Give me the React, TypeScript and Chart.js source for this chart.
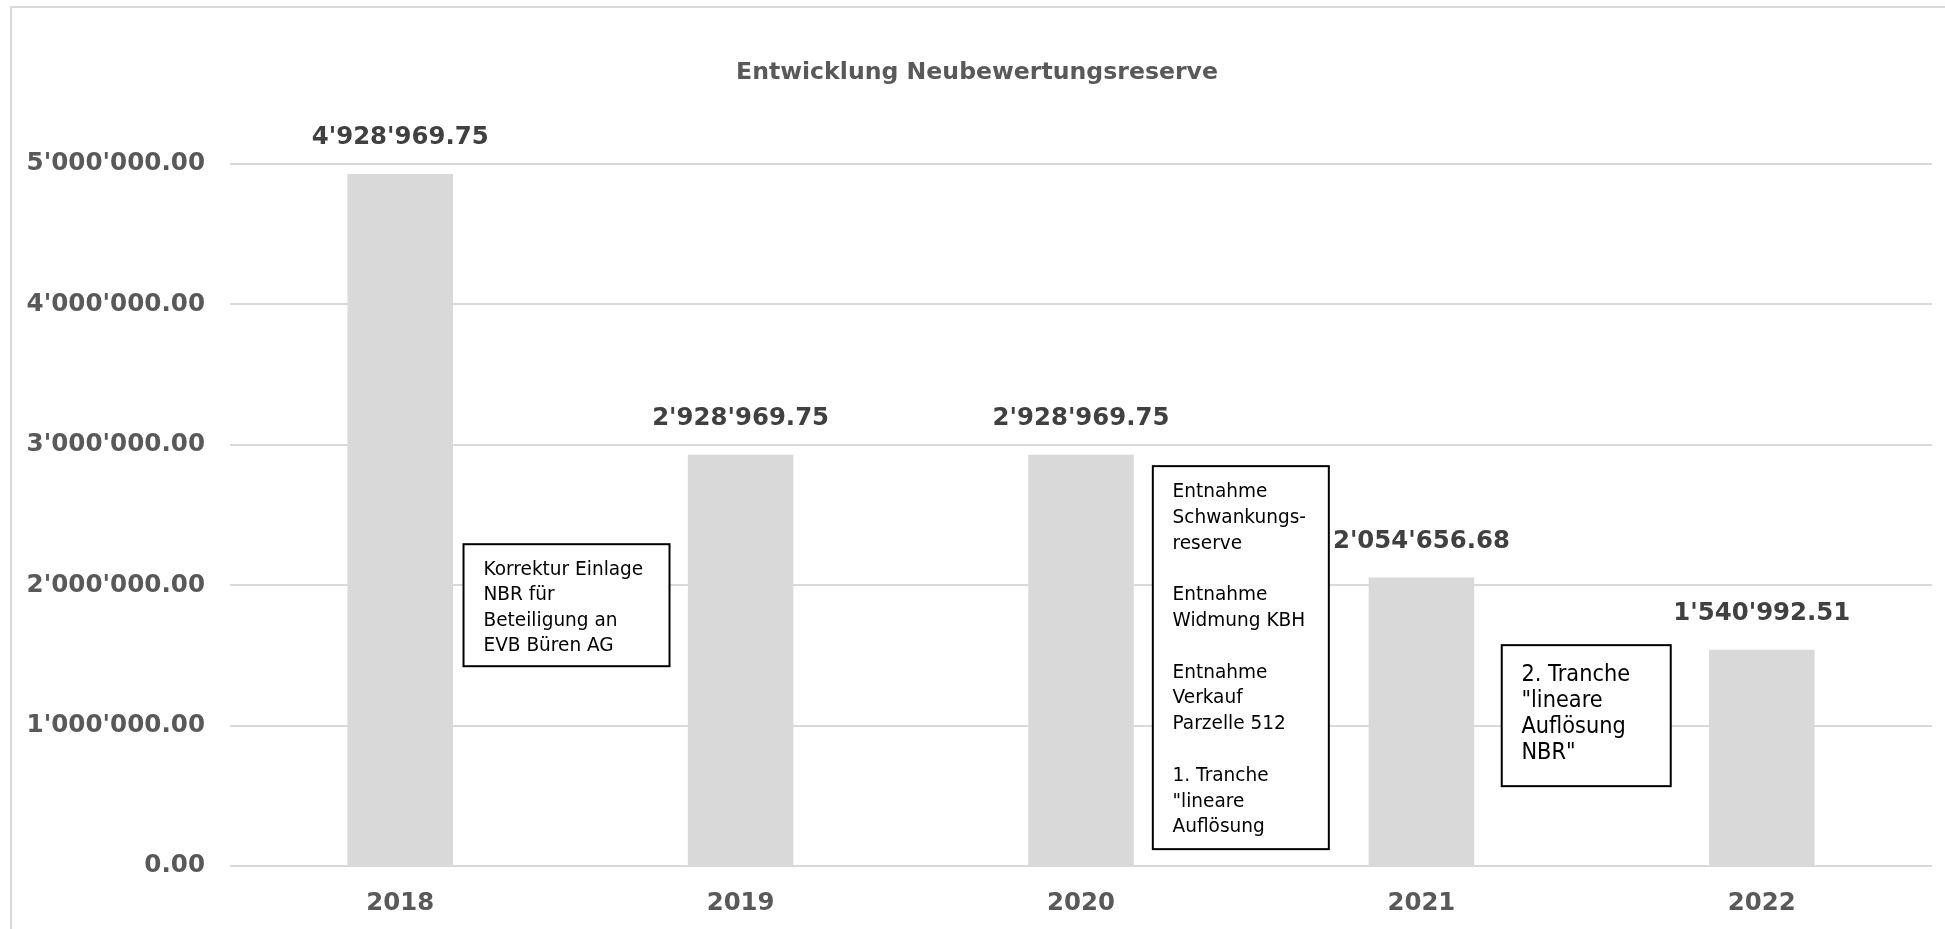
import React, { useEffect, useRef } from "react";
import { Chart, registerables } from "chart.js";

Chart.register(...registerables);

const categories = ["2018", "2019", "2020", "2021", "2022"];
const values = [4928969.75, 2928969.75, 2928969.75, 2054656.68, 1540992.51];
const yTicks = [0, 1000000, 2000000, 3000000, 4000000, 5000000];
const chartTitle = "Entwicklung Neubewertungsreserve";

const note1Lines = ["Korrektur Einlage", "NBR für", "Beteiligung an", "EVB Büren AG"];
const note2Lines = [
  "Entnahme",
  "Schwankungs-",
  "reserve",
  "",
  "Entnahme",
  "Widmung KBH",
  "",
  "Entnahme",
  "Verkauf",
  "Parzelle 512",
  "",
  "1. Tranche",
  "\"lineare",
  "Auflösung",
];
const note3Lines = ["2. Tranche", "\"lineare", "Auflösung", "NBR\""];

const FONT = "'DejaVu Sans', Verdana, sans-serif";

function fmt(v: number): string {
  const [i, d] = Number(v).toFixed(2).split(".");
  return i.replace(/\B(?=(\d{3})+(?!\d))/g, "'") + "." + d;
}

// annotation boxes anchored through the scales (x in category-index units, y in data units)
const notes = [
  { lines: note1Lines, xIndex: 0.186, yValue: 2292000, w: 206, h: 122, size: 20, sx: 0.925, lh: 25.4, padX: 20, firstY: 25.3 },
  { lines: note2Lines, xIndex: 2.211, yValue: 2848000, w: 176, h: 383, size: 20, sx: 0.925, lh: 25.8, padX: 19.7, firstY: 25.7 },
  { lines: note3Lines, xIndex: 3.236, yValue: 1573000, w: 169, h: 141, size: 22.5, sx: 0.93, lh: 26.1, padX: 19.7, firstY: 30 },
];

const decorPlugin = {
  id: "decor",
  beforeDraw(chart: any) {
    const ctx = chart.ctx;
    ctx.save();
    ctx.fillStyle = "#ffffff";
    ctx.fillRect(0, 0, chart.width, chart.height);
    ctx.strokeStyle = "#d9d9d9";
    ctx.lineWidth = 2;
    ctx.strokeRect(11, 7, chart.width + 20, chart.height + 20);
    // title
    ctx.fillStyle = "#595959";
    ctx.font = `bold 23.6px ${FONT}`;
    ctx.textAlign = "center";
    ctx.textBaseline = "alphabetic";
    ctx.fillText(chartTitle, 977, 79);
    ctx.restore();
  },
  afterDatasetsDraw(chart: any) {
    const ctx = chart.ctx;
    const meta = chart.getDatasetMeta(0);
    ctx.save();
    // data labels
    ctx.fillStyle = "#404040";
    ctx.font = `bold 24.4px ${FONT}`;
    ctx.textAlign = "center";
    ctx.textBaseline = "middle";
    meta.data.forEach((bar: any, i: number) => {
      ctx.fillText(fmt(values[i]), bar.x, bar.y - 36);
    });
    // annotation boxes
    const xs = chart.scales.x;
    const ys = chart.scales.y;
    const x0 = xs.getPixelForValue(0);
    const step = xs.getPixelForValue(1) - x0;
    notes.forEach((n) => {
      const left = x0 + n.xIndex * step;
      const top = ys.getPixelForValue(n.yValue);
      ctx.fillStyle = "#ffffff";
      ctx.fillRect(left, top, n.w, n.h);
      ctx.strokeStyle = "#000000";
      ctx.lineWidth = 2;
      ctx.strokeRect(left, top, n.w, n.h);
      ctx.fillStyle = "#000000";
      ctx.font = `${n.size}px ${FONT}`;
      ctx.textAlign = "left";
      ctx.textBaseline = "middle";
      n.lines.forEach((line, i) => {
        if (!line) return;
        ctx.save();
        ctx.translate(left + n.padX, top + n.firstY + i * n.lh);
        ctx.scale(n.sx, 1);
        ctx.fillText(line, 0, 0);
        ctx.restore();
      });
    });
    ctx.restore();
  },
};

export default function App() {
  const ref = useRef<HTMLCanvasElement | null>(null);
  useEffect(() => {
    if (!ref.current) return;
    const chart = new Chart(ref.current, {
      type: "bar",
      data: {
        labels: categories,
        datasets: [
          {
            data: values,
            backgroundColor: "#d9d9d9",
            borderWidth: 0,
            barPercentage: 0.31,
            categoryPercentage: 1,
          },
        ],
      },
      options: {
        animation: false,
        responsive: false,
        maintainAspectRatio: false,
        layout: { padding: { top: 164, right: 13, bottom: 0, left: 0 } },
        plugins: {
          legend: { display: false },
          title: { display: false },
          tooltip: { enabled: false },
        },
        scales: {
          x: {
            grid: { display: false, drawTicks: false },
            border: { display: false },
            ticks: {
              font: { family: FONT, size: 24.4, weight: "bold" },
              color: "#595959",
              padding: 23,
            },
            afterFit: (a: any) => {
              a.height = 63;
            },
          },
          y: {
            min: 0,
            max: 5000000,
            afterBuildTicks: (a: any) => {
              a.ticks = yTicks.map((v) => ({ value: v }));
            },
            grid: { color: "#d9d9d9", lineWidth: 2, drawTicks: false },
            border: { display: false },
            ticks: {
              callback: (v: any) => fmt(Number(v)),
              font: { family: FONT, size: 24.6, weight: "bold" },
              color: "#595959",
              padding: 25,
            },
            afterFit: (a: any) => {
              a.width = 230;
            },
          },
        },
      },
      plugins: [decorPlugin],
    } as any);
    return () => chart.destroy();
  }, []);
  return (
    <div style={{ position: "fixed", left: 0, top: 0, width: 1945, height: 929, background: "#fff" }}>
      <canvas ref={ref} width={1945} height={929} style={{ display: "block" }} />
    </div>
  );
}
